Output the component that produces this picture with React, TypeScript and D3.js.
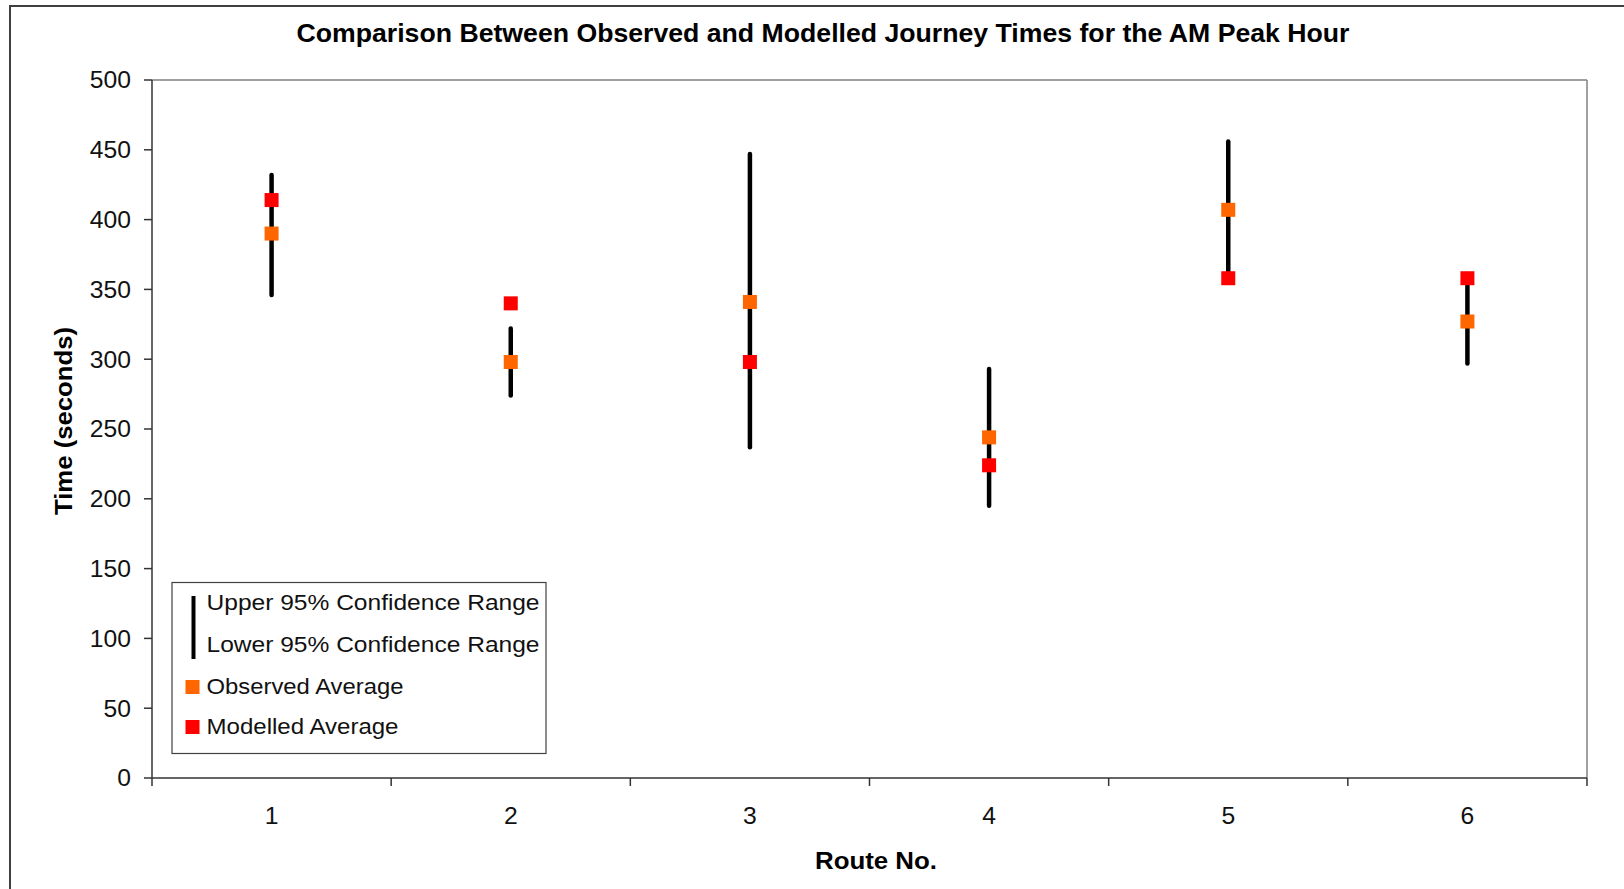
import React from "react";
import * as d3 from "d3";

// route categories and values (seconds)
const routes = ["1", "2", "3", "4", "5", "6"];
const upperCI = [432, 322, 447, 293, 456, 356];
const lowerCI = [346, 274, 237, 195, 360, 297];
const observedAvg = [390, 298, 341, 244, 407, 327];
const modelledAvg = [414, 340, 298, 224, 358, 358];
const yTicks = [0, 50, 100, 150, 200, 250, 300, 350, 400, 450, 500];

const legendItems = [
  { label: "Upper 95% Confidence Range", width: 333 },
  { label: "Lower 95% Confidence Range", width: 333 },
  { label: "Observed Average", width: 197 },
  { label: "Modelled Average", width: 192 },
];

const OBS = "#FF6600";
const MOD = "#FF0000";
const FONT = "'Liberation Sans', Arial, sans-serif";

export default function App() {
  const size = { width: 1624, height: 889 };
  const plot = { left: 152, top: 80, right: 1587, bottom: 778 };
  const mk = 14;

  const x = d3.scaleBand().domain(routes).range([plot.left, plot.right]).paddingInner(0);
  const y = d3.scaleLinear().domain([0, 500]).range([plot.bottom, plot.top]);
  const cx = (r: string) => (x(r) as number) + x.bandwidth() / 2;

  const bounds = routes.map((r) => x(r) as number).concat([plot.right]);

  return (
    <svg
      width={size.width}
      height={size.height}
      style={{ position: "absolute", left: 0, top: 0, fontFamily: FONT, background: "#fff" }}
    >
      {/* outer chart border, cropped on the right and bottom */}
      <rect x={10} y={6} width={1700} height={1000} fill="#fff" stroke="#404040" strokeWidth={2} />

      <text
        x={823}
        y={42}
        textAnchor="middle"
        fontWeight="bold"
        fontSize={25.5}
        textLength={1053}
        lengthAdjust="spacingAndGlyphs"
      >
        Comparison Between Observed and Modelled Journey Times for the AM Peak Hour
      </text>

      {/* plot frame */}
      <line x1={plot.left} x2={plot.right} y1={plot.top} y2={plot.top} stroke="#808080" strokeWidth={1.5} />
      <line x1={plot.right} x2={plot.right} y1={plot.top} y2={plot.bottom} stroke="#808080" strokeWidth={1.5} />

      {/* y axis */}
      <line x1={plot.left} x2={plot.left} y1={plot.top} y2={plot.bottom} stroke="#333" strokeWidth={1.5} />
      {yTicks.map((t) => (
        <g key={t}>
          <line x1={plot.left - 8} x2={plot.left} y1={y(t)} y2={y(t)} stroke="#333" strokeWidth={1.5} />
          <text
            transform={`translate(${131},${y(t)}) scale(1.05,1)`}
            textAnchor="end"
            dy="0.36em"
            fontSize={23.5}
            fill="#111"
          >
            {t}
          </text>
        </g>
      ))}

      {/* x axis */}
      <line x1={plot.left} x2={plot.right} y1={plot.bottom} y2={plot.bottom} stroke="#333" strokeWidth={1.5} />
      {bounds.map((b, i) => (
        <line key={i} x1={b} x2={b} y1={plot.bottom} y2={plot.bottom + 8} stroke="#333" strokeWidth={1.5} />
      ))}
      {routes.map((r) => (
        <text
          key={r}
          transform={`translate(${cx(r)},${823.5}) scale(1.05,1)`}
          textAnchor="middle"
          fontSize={23.5}
          fill="#111"
        >
          {r}
        </text>
      ))}

      <text x={876} y={869} textAnchor="middle" fontWeight="bold" fontSize={23.5} textLength={122} lengthAdjust="spacingAndGlyphs">
        Route No.
      </text>
      <text
        transform={`translate(72,421) rotate(-90)`}
        textAnchor="middle"
        fontWeight="bold"
        fontSize={23.5}
        textLength={188}
        lengthAdjust="spacingAndGlyphs"
      >
        Time (seconds)
      </text>

      {/* confidence ranges */}
      {routes.map((r, i) => (
        <line
          key={"ci" + r}
          x1={cx(r)}
          x2={cx(r)}
          y1={y(upperCI[i])}
          y2={y(lowerCI[i])}
          stroke="#000"
          strokeWidth={4.5}
          strokeLinecap="round"
        />
      ))}
      {routes.map((r, i) => (
        <rect key={"o" + r} x={cx(r) - mk / 2} y={y(observedAvg[i]) - mk / 2} width={mk} height={mk} fill={OBS} />
      ))}
      {routes.map((r, i) => (
        <rect key={"m" + r} x={cx(r) - mk / 2} y={y(modelledAvg[i]) - mk / 2} width={mk} height={mk} fill={MOD} />
      ))}

      {/* legend */}
      <g>
        <rect x={172} y={582.5} width={374} height={171} fill="#fff" stroke="#404040" strokeWidth={1.2} />
        <line x1={193.5} x2={193.5} y1={596} y2={659} stroke="#000" strokeWidth={4} />
        <rect x={185.5} y={680} width={mk} height={mk} fill={OBS} />
        <rect x={185.5} y={720} width={mk} height={mk} fill={MOD} />
        {legendItems.map((d, i) => (
          <text
            key={d.label}
            x={206.5}
            y={[609.5, 652, 693.5, 733.5][i]}
            fontSize={22}
            fill="#111"
            textLength={d.width}
            lengthAdjust="spacingAndGlyphs"
          >
            {d.label}
          </text>
        ))}
      </g>
    </svg>
  );
}
